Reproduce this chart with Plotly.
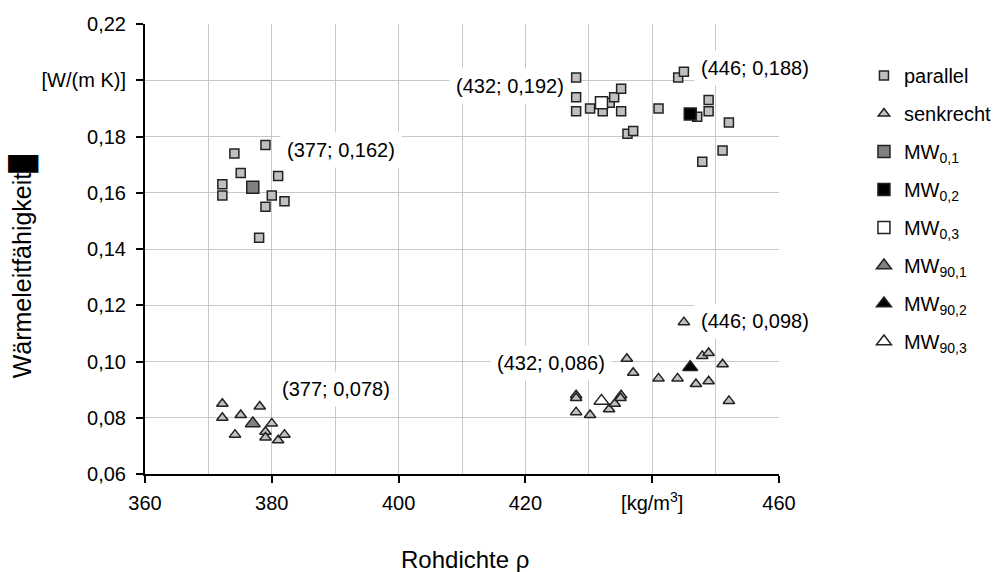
import plotly.graph_objects as go

# Rohdichte [kg/m3] und Wärmeleitfähigkeit [W/(m K)] der Einzelproben
par_x = [379.0, 374.1, 375.1, 381.0, 372.2, 372.2, 380.0, 382.0, 379.0, 378.0,
         428.0, 428.0, 428.0, 430.2, 432.2, 433.3, 434.0, 435.1, 435.1, 436.1, 437.0,
         441.0, 444.1, 445.0, 447.1, 448.9, 448.9, 452.1, 451.1, 447.9]
par_y = [0.177, 0.174, 0.167, 0.166, 0.163, 0.159, 0.159, 0.157, 0.155, 0.144,
         0.201, 0.194, 0.189, 0.190, 0.189, 0.192, 0.194, 0.197, 0.189, 0.181, 0.182,
         0.190, 0.201, 0.203, 0.187, 0.193, 0.189, 0.185, 0.175, 0.171]

senk_x = [372.2, 372.2, 378.1, 375.1, 374.2, 380.0, 379.0, 379.0, 381.0, 382.0,
          428.0, 428.0, 428.0, 430.2, 433.2, 434.1, 435.1, 435.0, 436.0, 437.0,
          441.0, 444.0, 445.0, 446.9, 447.9, 448.9, 448.9, 451.1, 452.1]
senk_y = [0.085, 0.080, 0.084, 0.081, 0.074, 0.078, 0.075, 0.073, 0.072, 0.074,
          0.088, 0.087, 0.082, 0.081, 0.083, 0.085, 0.088, 0.087, 0.101, 0.096,
          0.094, 0.094, 0.114, 0.092, 0.102, 0.103, 0.093, 0.099, 0.086]

# Mittelwerte
mw0_names = ["MW<sub>0,1</sub>", "MW<sub>0,2</sub>", "MW<sub>0,3</sub>"]
mw0_x = [377, 446, 432]
mw0_y = [0.162, 0.188, 0.192]
mw90_names = ["MW<sub>90,1</sub>", "MW<sub>90,2</sub>", "MW<sub>90,3</sub>"]
mw90_x = [377, 446, 432]
mw90_y = [0.078, 0.098, 0.086]
mw_fill = ["#808080", "#000000", "#ffffff"]

# Beschriftungsversatz der Mittelwert-Labels (px)
mw0_shift = [(88, 37), (65, 46), (-91, 17)]
mw90_shift = [(83, 34), (65, 46), (-50, 38)]

x_ticks = [360, 380, 400, 420, 440, 460]
x_ticktext = ["360", "380", "400", "420", "[kg/m<sup>3</sup>]", "460"]
y_ticks = [0.06, 0.08, 0.10, 0.12, 0.14, 0.16, 0.18, 0.20, 0.22]
y_ticktext = ["0,06", "0,08", "0,10", "0,12", "0,14", "0,16", "0,18", "[W/(m K)]", "0,22"]

FONT = "Arial, 'Liberation Sans', sans-serif"
EDGE = "#222222"

fig = go.Figure()
fig.add_trace(go.Scatter(
    x=par_x, y=par_y, mode="markers", name="parallel", legendgroup="a",
    marker=dict(symbol="square", size=9, color="#c0c0c0", line=dict(color=EDGE, width=1.5))))
fig.add_trace(go.Scatter(
    x=senk_x, y=senk_y, mode="markers", name="senkrecht", legendgroup="b",
    marker=dict(symbol="triangle-up", size=10, color="#c0c0c0", line=dict(color=EDGE, width=1.5))))
for i in range(3):
    fig.add_trace(go.Scatter(
        x=[mw0_x[i]], y=[mw0_y[i]], mode="markers", name=mw0_names[i], legendgroup="c%d" % i,
        marker=dict(symbol="square", size=12, color=mw_fill[i], line=dict(color=EDGE, width=1.5))))
for i in range(3):
    fig.add_trace(go.Scatter(
        x=[mw90_x[i]], y=[mw90_y[i]], mode="markers", name=mw90_names[i], legendgroup="d%d" % i,
        marker=dict(symbol="triangle-up", size=13, color=mw_fill[i], line=dict(color=EDGE, width=1.5))))


def label(x, y):
    return "(%d; %s)" % (x, ("%.3f" % y).replace(".", ","))


annotations = []
for xs, ys, shifts in ((mw0_x, mw0_y, mw0_shift), (mw90_x, mw90_y, mw90_shift)):
    for x, y, (dx, dy) in zip(xs, ys, shifts):
        annotations.append(dict(
            x=x, y=y, xref="x", yref="y", text=label(x, y), showarrow=False,
            xshift=dx, yshift=dy, bgcolor="white", borderpad=6,
            font=dict(family=FONT, size=20, color="black")))

annotations.append(dict(
    text="Wärmeleitfähigkeit█", textangle=-90, xref="paper", yref="paper",
    x=-0.192, y=0.462, xanchor="center", yanchor="middle", showarrow=False,
    font=dict(family=FONT, size=25, color="black")))
annotations.append(dict(
    text="Rohdichte ρ", xref="paper", yref="paper", x=0.505, y=-0.19,
    xanchor="center", yanchor="middle",
    showarrow=False, font=dict(family=FONT, size=24, color="black")))

fig.update_layout(
    width=995, height=572,
    margin=dict(l=145, r=216, t=24, b=98, autoexpand=False),
    paper_bgcolor="white", plot_bgcolor="white",
    font=dict(family=FONT, size=20, color="black"),
    showlegend=True,
    legend=dict(x=1.134, y=0.929, xanchor="left", yanchor="top",
                font=dict(family=FONT, size=20, color="black"),
                tracegroupgap=9, itemsizing="trace", bgcolor="rgba(0,0,0,0)"),
    annotations=annotations,
    xaxis=dict(
        range=[360, 460], tickmode="array", tickvals=x_ticks, ticktext=x_ticktext,
        showgrid=True, gridcolor="#c8c8c8", gridwidth=1,
        minor=dict(dtick=10, showgrid=True, gridcolor="#c8c8c8", ticklen=0),
        showline=True, linecolor="black", linewidth=2,
        ticks="outside", ticklen=7, tickwidth=1.5, tickcolor="black",
        ticklabelstandoff=3, zeroline=False,
        tickfont=dict(family=FONT, size=20, color="black")),
    yaxis=dict(
        range=[0.06, 0.22], tickmode="array", tickvals=y_ticks, ticktext=y_ticktext,
        showgrid=True, gridcolor="#c8c8c8", gridwidth=1,
        showline=True, linecolor="black", linewidth=2,
        ticks="outside", ticklen=7, tickwidth=1.5, tickcolor="black",
        ticklabelstandoff=6, zeroline=False,
        tickfont=dict(family=FONT, size=20, color="black")),
)

fig.write_html("out.html")
